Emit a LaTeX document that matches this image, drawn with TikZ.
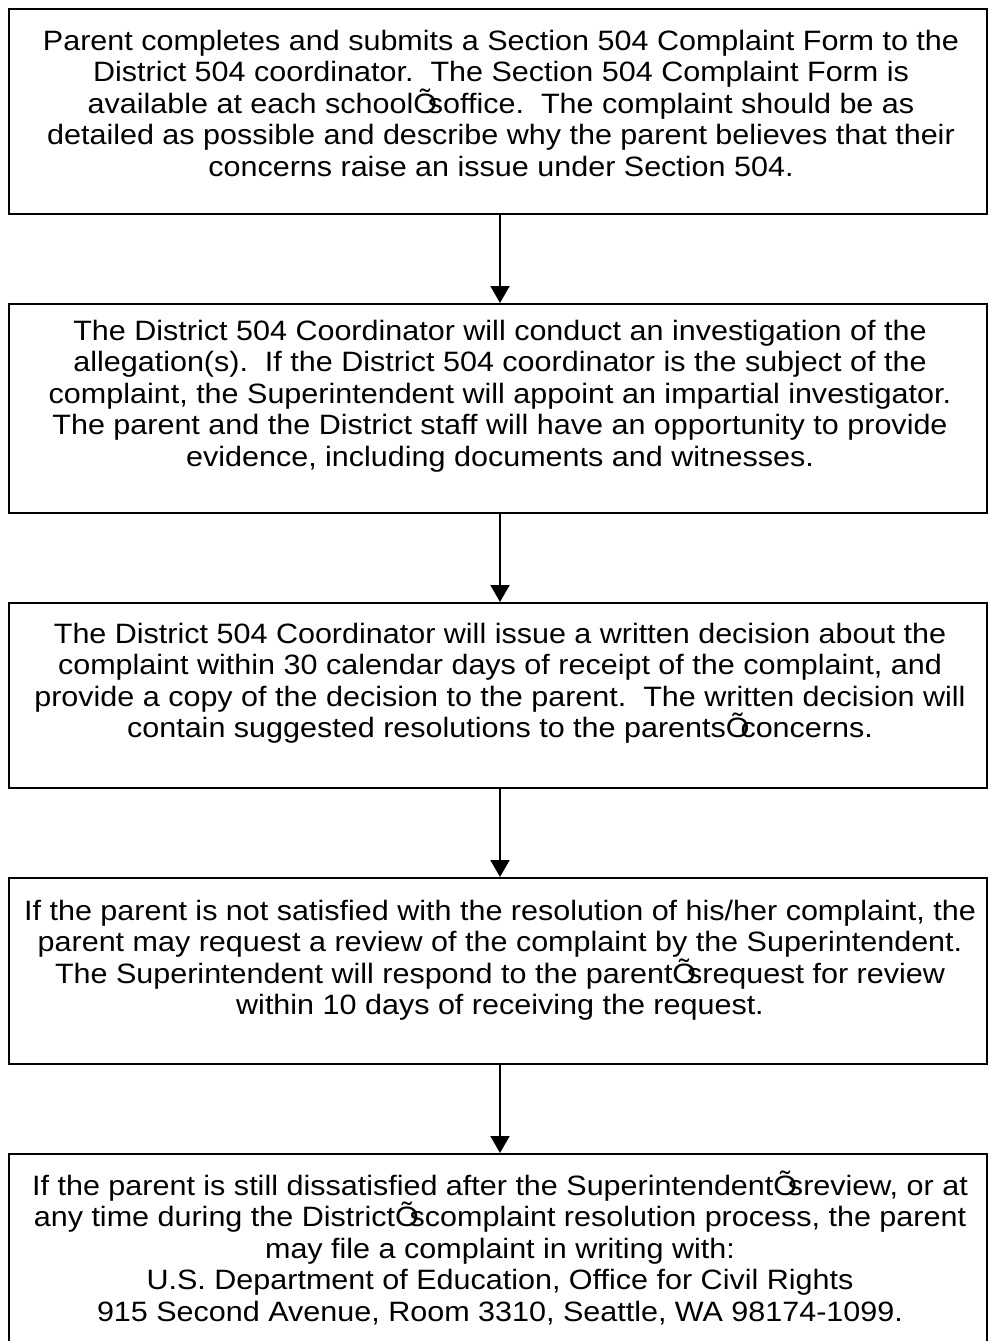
\documentclass[tikz,border=0pt]{standalone}
\usepackage{fontspec}
\setmainfont{Liberation Sans}[FakeStretch=1.09]
\usetikzlibrary{arrows.meta}
\newcommand\ap{\makebox[0.52em][l]{Õ}}
\tikzset{
  flowbox/.style={draw=black, line width=2pt, rectangle, minimum width=978pt, inner sep=0pt},
  flowtext/.style={anchor=base, inner sep=0pt, font=\fontsize{28}{31.6}\selectfont},
  flowarrow/.style={draw=black, line width=2pt, -{Triangle[length=17pt,width=19pt]}},
}
\newcommand\boxtext[1]{\parbox[t]{985pt}{\centering #1}}
\begin{document}
\begin{tikzpicture}[x=1pt,y=1pt]
\useasboundingbox (0,0) rectangle (989,-1341);
\clip (0,0) rectangle (989,-1341);
\node[flowbox, minimum height=205pt, anchor=north] (b1) at (498,-8) {};
\node[flowbox, minimum height=209pt, anchor=north] (b2) at (498,-303) {};
\node[flowbox, minimum height=185pt, anchor=north] (b3) at (498,-602) {};
\node[flowbox, minimum height=186pt, anchor=north] (b4) at (498,-877) {};
\node[flowbox, minimum height=210pt, anchor=north] (b5) at (498,-1153) {};
\node[flowtext] (t1) at (501,-50) {\boxtext{Parent completes and submits a Section 504 Complaint Form to the\\
District 504 coordinator.\ \ The Section 504 Complaint Form is\\
available at each school\ap soffice.\ \ The complaint should be as\\
detailed as possible and describe why the parent believes that their\\
concerns raise an issue under Section 504.}};
\node[flowtext] (t2) at (500,-340) {\boxtext{The District 504 Coordinator will conduct an investigation of the\\
allegation(s).\ \ If the District 504 coordinator is the subject of the\\
complaint, the Superintendent will appoint an impartial investigator.\\
The parent and the District staff will have an opportunity to provide\\
evidence, including documents and witnesses.}};
\node[flowtext] (t3) at (500,-643) {\boxtext{The District 504 Coordinator will issue a written decision about the\\
complaint within 30 calendar days of receipt of the complaint, and\\
provide a copy of the decision to the parent.\ \ The written decision will\\
contain suggested resolutions to the parents\ap concerns.}};
\node[flowtext] (t4) at (500,-920) {\boxtext{If the parent is not satisfied with the resolution of his/her complaint, the\\
parent may request a review of the complaint by the Superintendent.\\
The Superintendent will respond to the parent\ap srequest for review\\
within 10 days of receiving the request.}};
\node[flowtext] (t5) at (500,-1195) {\boxtext{If the parent is still dissatisfied after the Superintendent\ap sreview, or at\\
any time during the District\ap scomplaint resolution process, the parent\\
may file a complaint in writing with:\\
U.S. Department of Education, Office for Civil Rights\\
915 Second Avenue, Room 3310, Seattle, WA 98174-1099.}};
\draw[flowarrow] ([xshift=2pt]b1.south) -- ([xshift=2pt]b2.north);
\draw[flowarrow] ([xshift=2pt]b2.south) -- ([xshift=2pt]b3.north);
\draw[flowarrow] ([xshift=2pt]b3.south) -- ([xshift=2pt]b4.north);
\draw[flowarrow] ([xshift=2pt]b4.south) -- ([xshift=2pt]b5.north);
\end{tikzpicture}
\end{document}
